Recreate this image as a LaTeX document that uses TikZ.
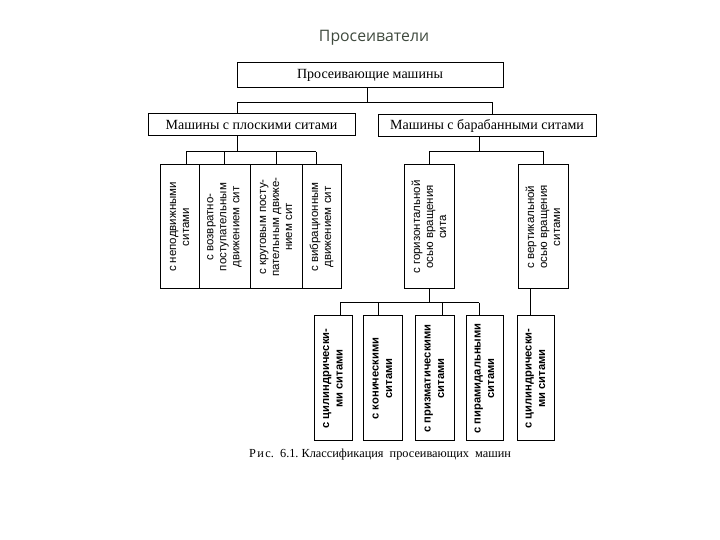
\documentclass[tikz,border=0pt]{standalone}
\usepackage{fontspec}
\setmainfont{Liberation Serif}
\setsansfont{Liberation Sans}
\newfontfamily\titlefont{Open Sans}
\definecolor{titlegray}{HTML}{3F4A3E}

\begin{document}
\begin{tikzpicture}[x=1pt,y=1pt,line width=1pt,
  box/.style={draw,inner sep=0pt,font=\fontsize{14}{16}\selectfont},
  upbox/.style={draw,rotate=90,align=center,inner sep=0pt,minimum width=124pt,
    font=\sffamily\fontsize{11.5}{13}\selectfont},
  lowbox/.style={upbox,minimum width=125pt,font=\sffamily\bfseries\fontsize{11.2}{13.5}\selectfont}]
%%Location
\useasboundingbox (0,0) rectangle (720,540);
%%Title
\node[font=\titlefont\fontsize{15.8}{18}\selectfont,text=titlegray] (title) at (374,502) {Просеиватели};

%%Boxes
\node[box,minimum width=266pt,minimum height=25pt] (top) at (370,464.5) {Просеивающие машины};
\node[box,minimum width=207pt,minimum height=22pt] (flat) at (251.5,415) {Машины с плоскими ситами};
\node[box,minimum width=218pt,minimum height=22pt] (drum) at (487,414) {Машины с барабанными ситами};

\node[upbox,minimum height=39pt] (b1) at (179.5,313) {с неподвижными\\ситами};
\node[upbox,minimum height=51pt] (b2) at (224.5,313) {с возвратно-\\поступательным\\движением сит};
\node[upbox,minimum height=52pt] (b3) at (276,313) {с круговым посту-\\пательным движе-\\нием сит};
\node[upbox,minimum height=39pt] (b4) at (321.5,313) {с вибрационным\\движением сит};

\node[upbox,minimum height=50pt] (d1) at (429,313) {с горизонтальной\\осью вращения\\сита};
\node[upbox,minimum height=50pt] (d2) at (543,313) {с вертикальной\\осью вращения\\ситами};

\node[lowbox,minimum height=38pt] (c1) at (333,161.5) {с цилиндрически-\\ми ситами};
\node[lowbox,minimum height=39pt] (c2) at (382.5,161.5) {с коническими\\ситами};
\node[lowbox,minimum height=39pt] (c3) at (434.5,161.5) {с призматическими\\ситами};
\node[lowbox,minimum height=37pt] (c4) at (484.5,161.5) {с пирамидальными\\ситами};
\node[lowbox,minimum height=37pt] (c5) at (535.5,161.5) {с цилиндрически-\\ми ситами};

%%Links
\coordinate (j0) at (367,437);
\coordinate (j0l) at (237,437);
\coordinate (j0r) at (492,437);
\draw (top.south -| j0) -- (j0);
\draw (j0l |- flat.north) -- (j0l) -- (j0r) -- (j0r |- drum.north);

\coordinate (j1) at (237,388);
\draw (flat.south -| j1) -- (j1);
\foreach \n/\x in {1/186,2/224,3/276,4/316}{
  \coordinate (f\n) at (\x,388);
  \draw (f\n) -- (f\n |- b\n.east);
}
\draw (f1) -- (f4);

\coordinate (j2) at (479,388);
\draw (drum.south -| j2) -- (j2);
\coordinate (g1) at (429,388);
\coordinate (g2) at (543,388);
\draw (g1 |- d1.east) -- (g1) -- (g2) -- (g2 |- d2.east);

\coordinate (j3) at (429,237);
\draw (d1.west -| j3) -- (j3);
\foreach \n/\x in {1/340,2/378,3/442,4/479}{
  \coordinate (h\n) at (\x,237);
  \draw (h\n) -- (h\n |- c\n.east);
}
\draw (h1) -- (h4);
\coordinate (j4) at (530,237);
\draw (d2.west -| j4) -- (j4 |- c5.east);

%%Label
\node[font=\fontsize{12.3}{14}\selectfont] (caption) at (380,85)
  {Р\kern1.5pt и\kern1.5pt с.\ \ 6.1.\ Классификация\ \ просеивающих\ \ машин};
\end{tikzpicture}
\end{document}
